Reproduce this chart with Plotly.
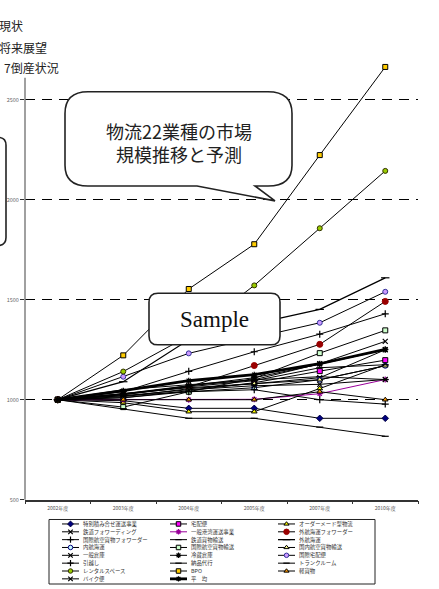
import plotly.graph_objects as go

# ---------------- data ----------------
categories = ["2002年度", "2003年度", "2004年度", "2005年度", "2007年度", "2010年度"]

tokubetsu_tsumiawase = [1000, 995, 957, 957, 907, 907]
tetsudo_forwarding = [1000, 1030, 1060, 1080, 1110, 1250]
kokusai_koku_forwarder = [1000, 1040, 1142, 1240, 1328, 1430]
naiko_kaiun = [1000, 1010, 1040, 1060, 1100, 1170]
ippan_soko = [1000, 1020, 1050, 1070, 1077, 1101]
hikkoshi = [1000, 1020, 1040, 1050, 1000, 978]
rental_space = [1000, 1141, 1320, 1572, 1858, 2145]
bike_bin = [1000, 1030, 1070, 1100, 1180, 1292]
takuhaibin = [1000, 1010, 1045, 1085, 1143, 1198]
ippan_kowan = [1000, 1000, 1000, 1002, 1030, 1101]
tetsudo_kamotsu = [1000, 1050, 1075, 1100, 1115, 1101]
kokusai_koku_yuso = [1000, 963, 1040, 1107, 1233, 1347]
reizo_soko = [1000, 1025, 1070, 1110, 1178, 1250]
nohin_daiko = [1000, 955, 907, 907, 863, 817]
bpo = [1000, 1222, 1554, 1778, 2224, 2665]
heikin = [1000, 1045, 1095, 1125, 1180, 1252]
order_made = [1000, 985, 940, 940, 1056, 1175]
gaiko_forwarder = [1000, 1025, 1064, 1171, 1277, 1492]
gaiko_kaiun = [1000, 1090, 1300, 1380, 1452, 1610]
kokunai_koku = [1000, 1015, 1055, 1080, 1100, 1170]
kokusai_takuhai = [1000, 1115, 1232, 1310, 1385, 1540]
trunk_room = [1000, 1030, 1065, 1095, 1160, 1175]
kei_kamotsu = [1000, 1000, 1000, 1000, 1040, 1000]

series_names = [
    "特別積み合せ運送事業", "宅配便", "オーダーメード型物流",
    "鉄道フォワーディング", "一般港湾運送事業", "外航海運フォワーダー",
    "国際航空貨物フォワーダー", "鉄道貨物輸送", "外航海運",
    "内航海運", "国際航空貨物輸送", "国内航空貨物輸送",
    "一般倉庫", "冷蔵倉庫", "国際宅配便",
    "引越し", "納品代行", "トランクルーム",
    "レンタルスペース", "BPO", "軽貨物",
    "バイク便", "平　均",
]
series_values = [
    tokubetsu_tsumiawase, takuhaibin, order_made,
    tetsudo_forwarding, ippan_kowan, gaiko_forwarder,
    kokusai_koku_forwarder, tetsudo_kamotsu, gaiko_kaiun,
    naiko_kaiun, kokusai_koku_yuso, kokunai_koku,
    ippan_soko, reizo_soko, kokusai_takuhai,
    hikkoshi, nohin_daiko, trunk_room,
    rental_space, bpo, kei_kamotsu,
    bike_bin, heikin,
]
y_ticks = [500, 1000, 1500, 2000, 2500]

# ---------------- styles ----------------
# (symbol, fill, outline, line colour, line width, size)
styles = [
    ("diamond", "#000080", "#000040", "black", 1, 5),
    ("square", "#FF00FF", "black", "black", 1, 5),
    ("triangle-up", "#FFFF00", "black", "black", 1, 5),
    ("x-thin-open", "black", "black", "black", 1, 5),
    ("asterisk-open", "#990099", "#990099", "#990099", 1, 5),
    ("circle", "#990000", "#990000", "black", 1, 6),
    ("cross-thin-open", "black", "black", "black", 1, 5),
    ("line-ew-open", "black", "black", "black", 1, 5),
    ("line-ew-open", "black", "black", "black", 1.3, 6),
    ("circle", "#CCFFFF", "#000080", "black", 1, 5),
    ("square", "#CCFFCC", "black", "black", 1, 5),
    ("triangle-up", "#FFFF99", "black", "black", 1, 5),
    ("x-thin-open", "black", "black", "black", 1, 5),
    ("asterisk-open", "black", "black", "black", 1, 5),
    ("circle", "#CC99FF", "#333399", "black", 1, 5),
    ("cross-thin-open", "black", "black", "black", 1, 5),
    ("line-ew-open", "black", "black", "black", 1, 5),
    ("line-ew-open", "black", "black", "black", 1, 5),
    ("circle", "#99CC00", "#333300", "black", 1, 5),
    ("square", "#FFCC00", "black", "black", 1, 5),
    ("triangle-up", "#FF9900", "black", "black", 1, 5),
    ("x-thin-open", "black", "black", "black", 1, 5),
    ("asterisk-open", "black", "black", "black", 2.8, 5),
]

W, H = 439, 589
ML, MR, MT, MB = 25, 21, 55, 0
PW, PH = W - ML - MR, H - MT - MB


def xp(px):
    return (px - ML) / PW


def yp(py):
    return (H - MB - py) / PH


def path(tokens):
    out = []
    for t in tokens:
        s = t[0]
        for (x, y) in t[1:]:
            s += f" {xp(x):.5f},{yp(y):.5f}"
        out.append(s)
    return " ".join(out)


def rounded_rect(x0, y0, x1, y1, r):
    return path([
        ("M", (x0 + r, y0)), ("L", (x1 - r, y0)), ("Q", (x1, y0), (x1, y0 + r)),
        ("L", (x1, y1 - r)), ("Q", (x1, y1), (x1 - r, y1)), ("L", (x0 + r, y1)),
        ("Q", (x0, y1), (x0, y1 - r)), ("L", (x0, y0 + r)), ("Q", (x0, y0), (x0 + r, y0)),
        ("Z",),
    ])


fig = go.Figure()

# main lines
for name, vals, st in zip(series_names, series_values, styles):
    sym, fill, outline, lcol, lw, size = st
    fig.add_trace(go.Scatter(
        x=categories, y=vals, name=name, mode="lines+markers",
        line=dict(color=lcol, width=lw),
        marker=dict(symbol=sym, size=size, color=fill,
                    line=dict(color=outline, width=1 if "open" not in sym else 1.2)),
        cliponaxis=False, showlegend=False,
    ))

# compact legend keys (drawn on a hidden helper axis pair)
col_x = [62, 170, 278]
row_y0, row_step = 527.5, 7.9
annotations = []
for i, (name, st) in enumerate(zip(series_names, styles)):
    sym, fill, outline, lcol, lw, size = st
    c, r = i % 3, i // 3
    x0 = col_x[c]
    yy = row_y0 + r * row_step
    fig.add_trace(go.Scatter(
        x=[x0, x0 + 8.5, x0 + 17], y=[yy, yy, yy], xaxis="x2", yaxis="y2",
        mode="lines+markers", line=dict(color=lcol, width=lw),
        marker=dict(symbol=sym, size=size - 0.5, color=fill, opacity=[0, 1, 0],
                    line=dict(color=outline, width=1 if "open" not in sym else 1.2)),
        showlegend=False, hoverinfo="skip", cliponaxis=False,
    ))
    annotations.append(dict(
        x=x0 + 19, y=yy, xref="x2", yref="y2", text=name, showarrow=False,
        xanchor="left", yanchor="middle",
        font=dict(family="Noto Sans CJK JP", size=5.4, color="#333333"),
    ))

# top-left partial texts
for txt, py, px_left in [("現状", 25, -3), ("将来展望", 47, -3), ("7倒産状況", 68, 2)]:
    annotations.append(dict(
        x=xp(px_left), y=yp(py), xref="paper", yref="paper", text=txt,
        showarrow=False, xanchor="left", yanchor="middle",
        font=dict(family="Noto Sans CJK JP", size=12, color="#222222"),
    ))

# callout texts
annotations.append(dict(x=xp(178.5), y=yp(143.5), xref="paper", yref="paper",
                        text="物流22業種の市場<br>規模推移と予測", showarrow=False,
                        xanchor="center", yanchor="middle",
                        font=dict(family="Noto Sans CJK JP", size=18, color="#222222")))
annotations.append(dict(x=xp(214.5), y=yp(321), xref="paper", yref="paper",
                        text="Sample", showarrow=False,
                        xanchor="center", yanchor="middle",
                        font=dict(family="Liberation Serif", size=23, color="#111111")))

bubble = path([
    ("M", (88, 92)), ("L", (268, 92)), ("Q", (292, 92), (292, 114)),
    ("L", (292, 166)), ("Q", (292, 187), (268, 187)), ("L", (255, 187)),
    ("L", (275, 202)), ("L", (197, 187)), ("L", (88, 187)),
    ("Q", (65, 187), (65, 166)), ("L", (65, 114)), ("Q", (65, 92), (88, 92)), ("Z",),
])
left_box = path([
    ("M", (-20, 138)), ("L", (-2, 138)), ("Q", (6, 138), (6, 146)),
    ("L", (6, 239)), ("Q", (6, 247), (-2, 247)), ("L", (-20, 247)),
])

shapes = [
    dict(type="line", xref="paper", yref="paper", x0=xp(25), x1=xp(25),
         y0=yp(503), y1=yp(78), line=dict(color="#808080", width=1.5), layer="above"),
    dict(type="path", xref="paper", yref="paper", path=bubble,
         fillcolor="white", line=dict(color="#222222", width=1.6), layer="above"),
    dict(type="path", xref="paper", yref="paper", path=rounded_rect(149, 295, 280, 347, 9),
         fillcolor="white", line=dict(color="#222222", width=1.6), layer="above"),
    dict(type="path", xref="paper", yref="paper", path=left_box,
         line=dict(color="#222222", width=1.6), layer="above"),
    dict(type="rect", xref="paper", yref="paper", x0=xp(49), x1=xp(375),
         y0=yp(588), y1=yp(523), line=dict(color="#222222", width=1), layer="below"),
]

fig.update_layout(
    width=W, height=H,
    margin=dict(l=ML, r=MR, t=MT, b=MB, pad=0),
    paper_bgcolor="white", plot_bgcolor="white",
    showlegend=False,
    font=dict(family="Noto Sans CJK JP"),
    xaxis=dict(type="category", range=[-0.5, 5.5], tickson="boundaries",
               ticks="outside", ticklen=3, tickcolor="#333333",
               showline=True, linecolor="#333333", linewidth=1.5,
               showgrid=False, zeroline=False, anchor="y",
               tickfont=dict(size=5, color="#555555"), ticklabelstandoff=3),
    yaxis=dict(domain=[yp(503), yp(60)], range=[500, 2700], tickvals=y_ticks,
               ticks="outside", ticklen=4, tickcolor="#333333",
               showline=False, showgrid=True, gridcolor="black", gridwidth=1,
               griddash="10px,7px", zeroline=False,
               tickfont=dict(size=5.5, color="#666666"), anchor="x"),
    xaxis2=dict(domain=[0, 1], range=[ML, W - MR], visible=False, anchor="y2"),
    yaxis2=dict(domain=[0, yp(503)], range=[H - MB, 503], visible=False, anchor="x2"),
    shapes=shapes,
    annotations=annotations,
)

fig.write_html("out.html", config={"displayModeBar": False},
               post_script="document.body.style.margin='0';document.body.style.overflow='hidden';")
